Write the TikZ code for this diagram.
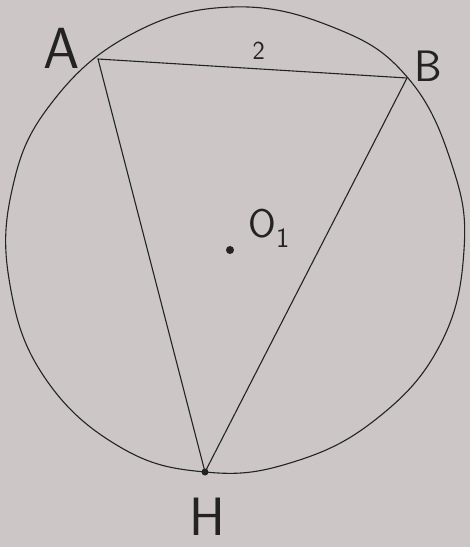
\documentclass[tikz,border=0pt]{standalone}
\usepackage{tikz}
\usetikzlibrary{positioning}
\definecolor{paper}{RGB}{204,199,198}
\definecolor{ink}{RGB}{35,35,35}

\begin{document}
\begin{tikzpicture}[x=1pt, y=-1pt, line width=1.1pt, draw=ink, font=\sffamily]
    \fill[paper] (0,0) rectangle (470,547);
    \useasboundingbox (0,0) rectangle (470,547);
    % hand-drawn circle
    \draw[ink] plot[smooth cycle, tension=0.7] coordinates {(232,7) (335,28) (408,78) (452,165) (464,250) (440,345) (375,420) (290,463) (205,472) (120,447) (45,378) (10,285) (12,190) (50,105) (130,35)};
    \coordinate (A) at (98,59);
    \coordinate (B) at (407,78);
    \coordinate (H) at (205,472);
    \coordinate (O) at (230,250);
    \draw[ink] (A) -- node[pos=0.52, above=6pt, text=ink, font=\sffamily\fontsize{26}{26}\selectfont] (two) {2} (B) -- (H) -- cycle;
    \fill[ink] (O) circle (4);
    \fill[ink] (H) circle (3.5);
    \node[inner sep=0pt, text=ink, font=\sffamily\fontsize{58}{58}\selectfont] (lA) at (62,48) {A};
    \node[inner sep=0pt, text=ink, font=\sffamily\fontsize{44}{44}\selectfont] (lB) at (428,66) {B};
    \node[inner sep=0pt, text=ink, font=\sffamily\fontsize{54}{54}\selectfont] (lH) at (207,517) {H};
    \node[inner sep=0pt, text=ink, font=\sffamily\fontsize{40}{40}\selectfont] (lO) at (269,228) {O\textsubscript{1}};
  \end{tikzpicture}
\end{document}
